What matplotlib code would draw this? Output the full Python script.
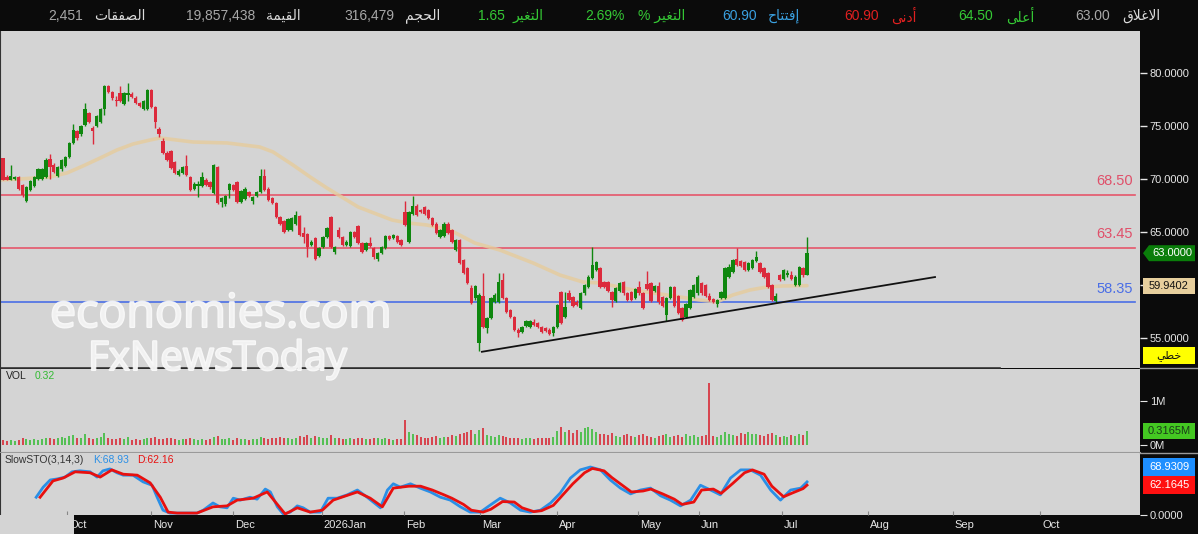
import matplotlib
matplotlib.use('Agg')
import matplotlib.pyplot as plt
import matplotlib.patheffects as pe
from matplotlib.patches import Polygon, Rectangle
from matplotlib.lines import Line2D
from matplotlib.transforms import IdentityTransform
import numpy as np

# ---------------- data ----------------
opens = [72.0,70.2,69.9,70.0,70.2,69.4,67.9,69.0,69.3,70.0,70.0,70.2,71.9,71.3,70.3,70.9,71.2,72.1,73.4,74.5,
         74.2,75.1,76.2,74.8,75.0,75.4,76.6,78.8,78.2,77.5,78.1,77.1,77.9,78.0,77.6,77.2,76.6,76.6,78.4,76.8,
         74.7,73.6,72.5,72.6,71.6,70.4,70.6,71.2,70.2,69.1,69.3,69.3,69.9,69.7,68.7,71.1,67.8,67.6,69.0,69.4,
         69.7,67.8,68.1,68.8,67.9,68.4,68.8,70.3,69.1,68.2,67.7,66.4,66.0,65.2,65.2,65.8,66.5,64.9,64.8,63.8,
         64.4,62.7,63.6,64.5,66.4,63.1,65.2,64.5,63.8,63.7,65.0,65.6,64.0,63.3,64.0,63.5,62.5,63.0,63.5,64.6,
         64.4,64.6,64.2,66.9,64.1,66.7,67.5,67.1,67.4,67.1,66.3,65.8,64.5,64.6,65.8,65.2,63.3,64.2,62.4,61.6,
         59.7,58.8,54.5,59.0,55.9,56.9,58.4,58.4,60.5,58.8,57.6,57.0,55.8,55.6,56.1,56.0,56.5,56.4,56.0,55.9,
         55.8,55.5,56.0,59.3,57.0,59.2,58.9,58.4,57.8,59.2,59.8,60.7,61.4,61.6,60.3,60.3,59.3,58.5,59.4,60.3,
         59.2,59.3,58.8,59.8,59.2,60.1,60.2,59.4,59.9,58.9,57.2,58.8,59.8,59.0,57.8,57.0,57.8,58.9,59.2,60.2,
         60.0,59.0,58.7,58.2,58.8,58.8,60.8,61.2,62.5,62.3,62.2,61.4,61.6,62.3,62.1,61.6,61.1,60.0,58.5,60.9,
         60.6,60.9,60.9,60.0,60.0,61.6,60.9]
highs = [72.0,70.4,71.3,70.3,70.3,69.5,69.3,69.9,70.3,71.0,71.0,72.0,72.4,71.5,71.2,71.9,72.2,73.5,75.2,74.6,
         75.1,77.2,76.3,75.0,76.0,76.7,78.9,78.9,78.3,77.8,78.8,78.2,79.1,78.2,77.8,77.3,77.5,78.5,78.5,76.9,
         74.9,73.9,72.6,72.7,71.7,70.9,71.2,72.3,70.3,69.7,69.8,70.7,70.1,69.8,71.4,71.2,68.3,68.5,69.6,69.5,
         69.8,69.0,69.2,68.9,68.4,68.9,70.9,70.9,69.2,68.3,67.8,66.5,66.1,66.3,66.4,67.0,66.6,65.5,64.9,64.2,
         64.5,63.6,64.6,65.5,66.5,63.7,65.5,64.6,64.2,65.1,65.1,65.7,64.1,64.1,64.5,63.6,63.1,63.7,64.7,64.7,
         64.8,64.7,64.3,67.9,67.0,68.4,67.6,67.2,67.5,67.2,66.4,65.9,65.3,65.9,65.9,65.3,64.3,64.3,62.5,61.7,
         60.0,60.0,59.2,61.1,57.0,58.9,59.2,61.1,61.1,58.9,57.7,57.1,55.9,56.1,56.7,56.7,56.8,56.5,56.1,56.0,
         55.9,56.1,58.2,59.4,59.3,59.5,59.0,58.6,59.3,60.1,60.9,63.6,62.3,61.7,60.4,60.4,59.4,59.8,60.3,60.4,
         59.3,59.4,59.7,60.4,59.3,61.3,60.3,60.0,60.3,59.0,58.9,59.9,59.9,59.1,57.9,58.3,59.6,60.1,60.9,60.3,
         60.1,59.2,58.8,58.7,59.4,61.7,62.0,62.5,63.5,62.4,62.3,62.2,62.5,63.2,62.2,61.7,61.2,60.1,59.2,61.0,
         61.5,61.4,61.3,60.9,61.8,61.7,64.5]
lows = [69.9,69.9,69.9,69.9,69.0,68.3,67.8,68.9,69.2,69.9,69.9,70.1,70.0,70.6,70.2,70.8,71.1,72.0,73.3,73.7,
        74.1,75.0,75.3,73.3,74.9,75.3,76.0,78.1,77.5,76.9,77.3,77.0,77.4,77.6,77.1,76.8,76.5,76.5,76.7,74.8,
        74.0,72.4,71.7,70.9,70.5,70.3,70.5,70.3,68.9,69.0,68.3,69.2,69.3,69.1,68.6,67.6,67.4,67.5,68.2,68.9,
        67.7,67.7,68.0,68.3,67.6,68.3,68.7,68.9,67.9,67.6,66.3,65.7,64.9,65.1,65.1,65.7,64.6,64.0,62.6,63.7,
        62.4,62.6,63.5,64.4,63.5,62.9,64.4,63.7,63.7,63.6,64.4,63.9,63.0,63.2,63.6,62.5,62.3,62.9,63.4,64.2,
        64.3,64.0,63.7,65.6,64.0,66.6,66.5,66.8,66.6,66.2,65.6,64.8,64.4,64.5,64.8,64.0,63.2,62.0,61.0,60.1,
        58.2,58.6,53.8,55.9,55.5,56.8,58.3,58.3,58.7,57.4,56.9,55.7,55.1,55.5,56.0,55.9,56.1,55.9,55.5,55.6,
        55.3,55.2,55.9,56.3,56.9,58.5,57.9,58.0,57.7,59.1,59.7,60.6,61.3,59.7,59.7,59.3,57.9,58.4,59.3,59.1,
        58.5,58.5,58.7,59.1,57.7,59.5,58.4,59.3,58.2,57.9,56.6,58.7,57.9,57.3,56.6,56.9,57.7,58.8,59.1,59.1,
        58.9,58.5,58.3,57.9,58.7,58.7,60.7,61.1,61.8,61.7,61.3,61.3,61.5,62.2,61.1,60.7,59.7,58.5,58.3,60.4,
        60.5,60.8,60.5,59.9,59.9,60.8,60.9]
closes = [69.9,69.9,70.3,70.2,69.1,68.5,69.2,69.8,70.2,70.9,70.9,71.8,71.1,70.7,71.1,71.8,72.1,73.4,74.6,73.9,
          75.0,76.6,75.4,74.5,75.9,76.6,78.8,78.2,77.6,77.4,77.4,78.1,78.1,77.7,77.2,76.9,77.4,78.4,76.8,75.4,
          74.2,72.5,71.8,71.0,70.6,70.8,71.1,70.4,69.0,69.5,69.5,70.2,69.4,69.2,71.3,67.7,68.2,68.4,69.5,69.0,
          67.8,68.9,69.1,68.4,68.3,68.8,70.3,69.0,68.0,67.7,66.4,65.8,65.0,66.2,66.3,66.6,64.7,64.5,63.6,64.1,
          62.5,63.5,64.5,65.4,63.6,63.6,64.5,63.8,64.1,65.0,64.5,64.0,63.1,64.0,63.7,62.6,63.0,63.6,64.6,64.3,
          64.7,64.1,63.8,65.7,66.9,67.5,66.6,66.9,66.7,66.3,65.7,64.9,65.2,65.8,64.9,64.1,64.2,62.1,61.1,60.2,
          58.3,59.9,59.1,56.0,56.9,58.8,59.1,60.3,58.8,57.5,57.0,55.8,55.5,56.0,56.6,56.6,56.2,56.0,55.6,55.7,
          55.4,56.0,58.1,56.4,57.9,58.6,58.0,58.1,59.2,60.0,60.8,61.9,62.2,59.8,59.8,59.4,58.6,59.7,60.2,59.2,
          58.6,58.6,59.6,59.2,57.8,59.6,58.5,59.9,58.4,58.0,58.8,59.8,58.0,57.4,56.7,58.2,59.5,60.0,60.8,59.2,
          59.0,58.6,58.4,58.6,59.3,61.6,61.7,62.4,61.9,61.8,61.4,62.1,62.4,62.6,61.2,60.8,59.8,58.6,59.0,60.5,
          61.4,61.1,60.6,60.8,61.7,60.9,63.0]
volumes_m = [0.12,0.10,0.12,0.10,0.12,0.15,0.14,0.12,0.13,0.12,0.14,0.17,0.15,0.13,0.16,0.18,0.17,0.20,0.22,0.15,
             0.16,0.24,0.17,0.14,0.15,0.18,0.27,0.16,0.14,0.13,0.16,0.14,0.18,0.12,0.13,0.12,0.14,0.16,0.17,0.18,
             0.14,0.13,0.15,0.16,0.14,0.12,0.13,0.14,0.15,0.13,0.12,0.14,0.12,0.13,0.18,0.20,0.14,0.13,0.15,0.12,
             0.16,0.14,0.13,0.12,0.14,0.13,0.18,0.16,0.14,0.15,0.17,0.18,0.16,0.15,0.14,0.16,0.20,0.18,0.22,0.15,
             0.20,0.18,0.17,0.16,0.22,0.16,0.15,0.14,0.13,0.16,0.14,0.17,0.15,0.14,0.13,0.16,0.15,0.14,0.17,0.13,
             0.12,0.13,0.14,0.57,0.30,0.25,0.22,0.18,0.17,0.16,0.18,0.20,0.17,0.19,0.18,0.22,0.20,0.25,0.28,0.30,
             0.33,0.26,0.35,0.38,0.22,0.20,0.18,0.22,0.20,0.18,0.16,0.17,0.15,0.14,0.15,0.16,0.14,0.15,0.17,0.16,
             0.15,0.18,0.32,0.40,0.30,0.35,0.28,0.33,0.30,0.38,0.42,0.36,0.30,0.26,0.24,0.22,0.28,0.20,0.18,0.22,
             0.26,0.20,0.18,0.22,0.25,0.20,0.18,0.16,0.20,0.22,0.25,0.18,0.20,0.22,0.18,0.24,0.20,0.22,0.18,0.20,
             0.22,1.40,0.20,0.18,0.22,0.30,0.25,0.22,0.20,0.28,0.25,0.30,0.26,0.24,0.22,0.20,0.25,0.28,0.22,0.18,
             0.20,0.18,0.22,0.20,0.25,0.22,0.32]
ma_idx = [-0.8,4.4,7.7,12.0,16.4,20.5,24.9,29.2,33.3,37.7,40.2,48.7,57.4,65.8,69.2,74.3,78.7,83.0,91.0,99.7,
          103.8,108.6,114.5,120.9,127.3,135.8,142.7,148.6,153.0,161.4,170.1,178.6,182.9,187.0,191.4,195.7,199.8,206.0]
ma_val = [69.91,70.0,70.09,70.19,70.57,71.23,71.98,72.74,73.30,73.68,73.87,73.49,73.40,73.02,72.55,71.32,70.19,69.15,67.36,66.13,
          65.85,65.66,65.19,63.96,63.30,62.08,60.94,60.28,60.19,59.53,59.06,58.58,58.40,59.06,59.53,59.81,59.91,59.94]
k_idx = [8.5,10.3,12.1,13.8,15.9,17.7,19.7,22.3,24.1,25.6,27.4,29.2,30.8,33.3,35.9,38.2,39.5,41.0,42.8,46.2,49.7,51.3,
         53.8,55.6,57.4,59.0,60.8,63.3,65.1,67.2,68.5,70.3,71.8,73.6,75.4,76.9,78.7,81.3,83.3,85.6,88.2,90.8,93.3,96.7,
         98.5,100,101.8,104.4,106.9,109.5,112.1,114.6,117.2,119.7,122.3,124.9,127.4,130.0,132.6,135.1,137.7,140.3,142.8,
         145.4,147.9,150.5,153.1,155.6,158.2,160.8,163.3,165.9,168.5,171.0,173.6,176.2,178.7,181.3,183.8,186.4,189.0,
         191.5,194.1,196.7,199.2,201.8,204.4,206]
k_val = [37,58,73,75,79,90,92,90,79,92,96,88,83,83,69,62,37,10,4,4,4,10,
         25,17,15,35,31,37,33,54,48,17,2,6,19,15,6,6,35,35,42,52,37,15,
         52,65,58,65,56,48,37,31,17,6,6,21,35,25,10,6,10,25,46,
         77,94,100,94,73,56,44,52,56,40,31,19,31,62,52,42,77,94,
         94,83,52,31,52,56,68.93]
d_idx = [9.5,12.8,15.4,18.5,22.3,24.9,27.9,30.8,34.4,37.7,40.3,42.3,44.6,49.7,53.8,57.4,60.0,64.1,67.7,69.2,72.3,75.4,
         78.7,81.8,84.6,90.8,94.1,97.2,100,104,107,110,113,115,118,120,123,125,128,131,133,136,138,141,143,146,149,151,
         154,156,159,161,164,166,169,172,174,177,179,182,184,187,190,192,195,197,200,202,205,206]
d_val = [37,71,77,90,88,79,94,85,83,67,37,6,4,4,17,19,31,35,48,33,2,15,
         6,10,31,48,35,17,56,60,60,52,42,35,22,10,6,12,28,27,15,7,9,20,38,65,88,97,
         92,78,60,48,50,54,44,33,22,27,52,54,45,66,88,94,85,60,38,45,55,62.16]
trend_idx = [122.7, 238.8]
trend_val = [53.7, 60.75]
levels_red = [68.50, 63.45]
level_blue = 58.35
month_idx = [16.4, 37.9, 58.9, 81.7, 102.7, 122.2, 141.9, 162.7, 178.3, 199.6, 221.6, 243.4, 265.7]
month_lbl = ['Oct', 'Nov', 'Dec', '2026Jan', 'Feb', 'Mar', 'Apr', 'May', 'Jun', 'Jul', 'Aug', 'Sep', 'Oct']
price_ticks = [55, 60, 65, 70, 75, 80]
ma_last = 59.9402
k_last, d_last, vol_last = 68.9309, 62.1645, 0.3165

# header: (text, left x px, color)
header = [
    ('2,451', 48, '#a8a8a8'), ('\ufe95\ufe8e\ufed8\ufed4\ufebc\ufedf\ufe8d', 94, '#dcdcdc'),
    ('19,857,438', 186, '#a8a8a8'), ('\ufe94\ufee4\ufef4\ufed8\ufedf\ufe8d', 266, '#dcdcdc'),
    ('316,479', 344, '#a8a8a8'), ('\ufee2\ufea0\ufea4\ufedf\ufe8d', 405, '#dcdcdc'),
    ('1.65', 478, '#35c935'), ('\ufeae\ufef4\ufed0\ufe98\ufedf\ufe8d', 513, '#35c935'),
    ('2.69%', 585, '#35c935'), ('% \ufeae\ufef4\ufed0\ufe98\ufedf\ufe8d', 638, '#35c935'),
    ('60.90', 722, '#3aa0e0'), ('\ufea1\ufe8e\ufe98\ufe98\ufed3\ufe87', 768, '#3aa0e0'),
    ('60.90', 844, '#e02020'), ('\ufef0\ufee7\ufea9\ufe83', 891, '#e02020'),
    ('64.50', 958, '#35c935'), ('\ufef0\ufee0\ufecb\ufe83', 1006, '#35c935'),
    ('63.00', 1075, '#a8a8a8'), ('\ufed5\ufefc\ufecf\ufefb\ufe8d', 1122, '#dcdcdc'),
]

# ---------------- figure ----------------
W, H = 1198, 534
fig = plt.figure(figsize=(W / 100, H / 100), dpi=100, facecolor='#0b0b0b')
FONT = ['Liberation Sans', 'DejaVu Sans']
plt.rcParams['font.family'] = FONT

def rect(x0, y0, x1, y1):
    return [x0 / W, 1 - y1 / H, (x1 - x0) / W, (y1 - y0) / H]

PANEL = '#d4d4d4'
GREEN, RED = '#0f870f', '#dc2a3c'
VGREEN, VRED = '#3cbc3c', '#d82a36'
N = len(closes)
sp = 804 / (N - 1)            # px per candle
xl = (-3 / sp, 1137 / sp)
idx = np.arange(N)
up = np.array(closes) >= np.array(opens)

# header
for txt, x, c in header:
    fig.text(x / W, 1 - 16 / H, txt, color=c, fontsize=10, ha='left', va='center', family=FONT)

# price panel
ax = fig.add_axes(rect(0, 31, 1140, 368), facecolor=PANEL)
ax.set_xlim(*xl)
ax.set_ylim(80 - (368 - 73) / 10.6, 80 + (73 - 31) / 10.6)
for i in range(N):
    c = GREEN if up[i] else RED
    ax.vlines(i, lows[i], highs[i], color=c, lw=1, zorder=3)
    b0, b1 = min(opens[i], closes[i]), max(opens[i], closes[i])
    ax.bar(i, max(b1 - b0, 0.08), bottom=b0, width=0.86, color=c, lw=0, zorder=3)
ax.plot(ma_idx, ma_val, color='#e6cc9c', lw=2.6, alpha=0.8, zorder=2, solid_capstyle='round')
for lv in levels_red:
    ax.axhline(lv, xmin=0, xmax=1135 / 1140, color='#e5566b', lw=1.2, zorder=1)
ax.axhline(level_blue, xmin=0, xmax=1135 / 1140, color='#4a6ee6', lw=1.2, zorder=1)
ax.plot(trend_idx, trend_val, color='#111111', lw=1.3, zorder=4)
for lv, c in [(levels_red[0], '#e0506a'), (levels_red[1], '#e0506a'), (level_blue, '#4a6ee6')]:
    ax.annotate(f'{lv:.2f}', xy=(1133 / 1140, lv), xycoords=('axes fraction', 'data'),
                xytext=(0, 5), textcoords='offset points', ha='right', va='bottom',
                color=c, fontsize=10.5)
ax.yaxis.tick_right()
ax.set_yticks(price_ticks)
ax.set_yticklabels([f'{t:.4f}' for t in price_ticks])
ax.tick_params(axis='y', colors='#e6e6e6', labelsize=8, length=5, width=1, pad=2)
ax.set_xticks([])
for s in ['top', 'right']:
    ax.spines[s].set_visible(False)
ax.spines['left'].set_color('#333333')
ax.spines['bottom'].set_visible(False)
ax.plot([0, 1000 / 1140], [0, 0], transform=ax.transAxes, color='#333333', lw=1.2, clip_on=False)

# watermark
wm = dict(color='#f2f2f2', alpha=0.85, zorder=5,
          path_effects=[pe.withStroke(linewidth=1.5, foreground='white')])
fig.text(50 / W, 1 - 327 / H, 'economies.com', fontsize=33.5, family='Open Sans', ha='left', va='baseline', **wm)
fig.text(88 / W, 1 - 370 / H, 'FxNewsToday', fontsize=29, family='Open Sans', ha='left', va='baseline', **wm)

# volume panel
av = fig.add_axes(rect(0, 369, 1140, 452), facecolor=PANEL)
av.set_xlim(*xl)
av.set_ylim(-(452 - 445) / 44, (445 - 369) / 44)
av.vlines(idx, 0, volumes_m, colors=[VGREEN if u else VRED for u in up], lw=1.2)
av.yaxis.tick_right()
av.set_yticks([0, 1])
av.set_yticklabels(['0M', '1M'])
av.tick_params(axis='y', colors='#e6e6e6', labelsize=8, length=5, pad=2)
av.set_xticks([])
for s in ['top', 'right']:
    av.spines[s].set_visible(False)
av.spines['left'].set_color('#333333')
av.spines['bottom'].set_color('#9a9a9a')
av.text(6 / 1140, 1 - 7 / 83, 'VOL', transform=av.transAxes, fontsize=7.5, color='#222222', va='center')
av.text(35 / 1140, 1 - 7 / 83, '0.32', transform=av.transAxes, fontsize=7.5, color='#33bb33', va='center')

# stoch panel
ast = fig.add_axes(rect(0, 453, 1140, 515), facecolor=PANEL)
ast.set_xlim(*xl)
ast.set_ylim(0, (515 - 453) / 0.48)
ast.plot(k_idx, k_val, color='#2a8fe6', lw=2)
ast.plot(d_idx, d_val, color='#e8100f', lw=2)
ast.yaxis.tick_right()
ast.set_yticks([0])
ast.set_yticklabels(['0.0000'])
ast.tick_params(axis='y', colors='#e6e6e6', labelsize=8, length=5, pad=2)
ast.set_xticks(month_idx)
ast.set_xticklabels([])
ast.tick_params(axis='x', direction='in', length=3, color='#888888')
for s in ['top', 'right']:
    ast.spines[s].set_visible(False)
ast.spines['left'].set_color('#333333')
ast.spines['bottom'].set_visible(False)
ast.text(5 / 1140, 1 - 7 / 62, 'SlowSTO(3,14,3)', transform=ast.transAxes, fontsize=7.5, color='#333333', va='center')
ast.text(93 / 1140, 1 - 7 / 62, 'K:68.93', transform=ast.transAxes, fontsize=7.5, color='#2a8fe6', va='center')
ast.text(137 / 1140, 1 - 7 / 62, 'D:62.16', transform=ast.transAxes, fontsize=7.5, color='#e8100f', va='center')

# date bar
ad = fig.add_axes(rect(0, 515, 1140, 534), facecolor='#0b0b0b')
ad.set_xlim(*xl)
ad.set_ylim(0, 1)
for m, l in zip(month_idx, month_lbl):
    ad.text(m + 2 / sp, 0.5, l, color='#e8e8e8', fontsize=8, ha='left', va='center', clip_on=True)
ad.axis('off')
ad.add_patch(Rectangle((0, 0), 74 / 1140, 1, transform=ad.transAxes, facecolor=PANEL, lw=0, zorder=10, clip_on=False))

# separators extending into the right scale area
for yy, cc in [(368, '#9a9a9a'), (452.5, '#9a9a9a')]:
    fig.add_artist(Line2D([1140, W], [H - yy, H - yy], transform=IdentityTransform(), color=cc, lw=1))

# value boxes (display coords)
fig.canvas.draw()
def ypix(axis, v):
    return axis.transData.transform((0, v))[1]

def box(y, txt, fc, tc, arrow=False, x0=1143, x1=1195, hh=8):
    if arrow:
        pts = [(x0, y), (x0 + 6, y + hh), (x1, y + hh), (x1, y - hh), (x0 + 6, y - hh)]
    else:
        pts = [(x0, y + hh), (x1, y + hh), (x1, y - hh), (x0, y - hh)]
    fig.add_artist(Polygon(pts, closed=True, transform=IdentityTransform(), facecolor=fc, edgecolor='none', zorder=20))
    fig.text((x0 + x1) / 2 / W + (3 / W if arrow else 0), y / H, txt, color=tc, fontsize=8,
             ha='center', va='center', zorder=21)

box(ypix(ax, closes[-1]), f'{closes[-1]:.4f}', '#0a7d0a', 'white', arrow=True)
box(ypix(ax, ma_last), f'{ma_last:.4f}', '#e7cf9d', '#111111')
yd = ypix(ast, d_last)
box(yd, f'{d_last:.4f}', '#ff1010', 'white', hh=9)
box(yd + 18, f'{k_last:.4f}', '#1e8fff', 'white', hh=9)
box(ypix(av, vol_last), f'{vol_last:.4f}M', '#44c822', '#1a3a1a', hh=8)
# mode box
fig.add_artist(Rectangle((1143, H - 364), 52, 17, transform=IdentityTransform(), facecolor='#ffff00', lw=0, zorder=20))
fig.text(1169 / W, 1 - 356 / H, '\ufef2\ufec4\ufea7', color='#111111', fontsize=8, ha='center', va='center',
         family='DejaVu Sans', zorder=21)

fig.savefig('out.png', dpi=100, facecolor=fig.get_facecolor())
